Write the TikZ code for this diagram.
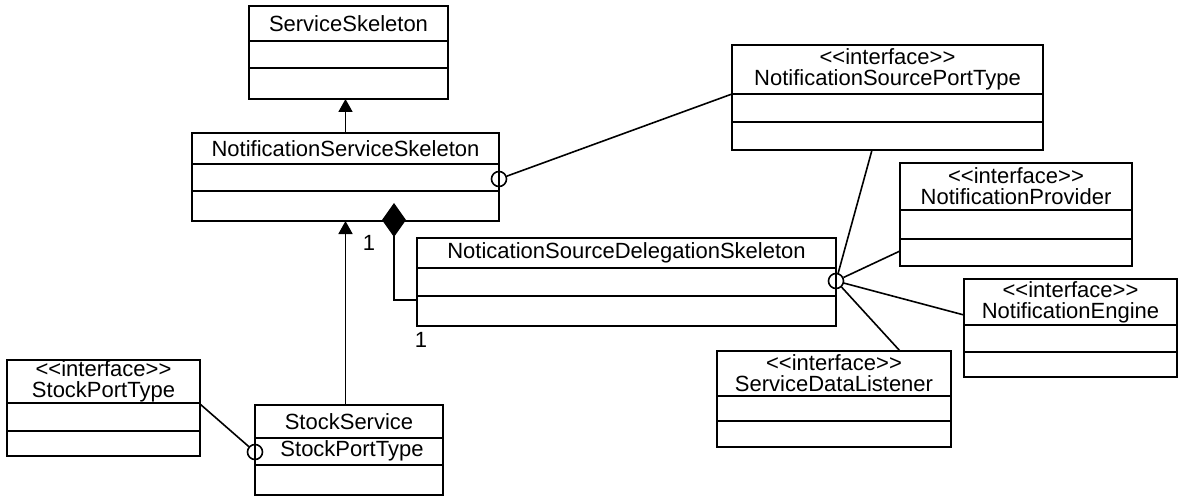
\documentclass[tikz,border=0pt]{standalone}
\usepackage{fontspec}
\setmainfont{Liberation Sans}
\usetikzlibrary{arrows.meta}
\usetikzlibrary{positioning}
\usetikzlibrary{calc}
\tikzset{classbox/.style = {draw, line width=1.8pt, anchor=north west,
                            inner sep=0pt, outer sep=0pt},
         classname/.style = {font=\fontsize{22}{21}\selectfont, align=center, inner sep=0pt},
         divider/.style = {line width=1.8pt},
         ball/.style = {draw, circle, line width=1.6pt, minimum size=15pt, inner sep=0pt},
         link/.style = {line width=1.6pt},
         inherit/.style = {line width=1.8pt, -{Triangle[width=14pt,length=13pt]}},
         compose/.style = {line width=1.8pt, -{Diamond[width=24pt,length=34pt]}}}
% name, top left corner, width, three compartment heights, title
\newcommand{\umlclass}[7]{%
  \node[classbox, minimum width=#3pt, minimum height={#4pt+#5pt+#6pt}] (#1) at (#2) {};
  \draw[divider] ($(#1.north west)+(0,#4)$) -- ($(#1.north east)+(0,#4)$);
  \draw[divider] ($(#1.north west)+(0,#4+#5)$) -- ($(#1.north east)+(0,#4+#5)$);
  \node[classname] (#1-name) at ($(#1.north)+(0,#4/2)$) {#7};
}
\newcommand{\stereo}{<{}<interface>{}>}

\begin{document}
\begin{tikzpicture}[x=1pt, y=-1pt]
    \useasboundingbox (0,0) rectangle (1183,497);

    \umlclass{sskel}{249,6}{199}{35}{27}{31}{ServiceSkeleton}
    \umlclass{nsskel}{192,133}{307}{31}{27}{30}{NotificationServiceSkeleton}
    \umlclass{nsport}{732,45}{311}{49}{28}{28}{\stereo\\NotificationSourcePortType}
    \umlclass{nprov}{900,163}{232}{47}{29}{27}{\stereo\\NotificationProvider}
    \umlclass{neng}{964,279}{213}{46}{27}{25}{\stereo\\NotificationEngine}
    \umlclass{sdlist}{717,351}{234}{45}{25}{26}{\stereo\\ServiceDataListener}
    \umlclass{nsdel}{417,238}{419}{30}{28}{30}{NoticationSourceDelegationSkeleton}
    \umlclass{spt}{7,360}{193}{43}{28}{25}{\stereo\\StockPortType}
    \umlclass{sserv}{255,405}{188}{33}{27}{30}{StockService}
    \node[classname] (sserv-attr) at ($(sserv.north)+(3,46)$) {StockPortType};

    % provided interfaces
    \node[ball] (nsskel-ball) at ($(nsskel.north east)+(0,46)$) {};
    \node[ball] (nsdel-ball) at ($(nsdel.north east)+(0,43)$) {};
    \node[ball] (sserv-ball) at ($(sserv.north west)+(0,47)$) {};

    \draw[link] (nsskel-ball) -- ($(nsport.north west)+(0,49)$);
    \draw[link] (nsdel-ball) -- ($(nsport.south west)+(140,0)$);
    \draw[link] (nsdel-ball) -- ($(nprov.north west)+(0,88)$);
    \draw[link] (nsdel-ball) -- ($(neng.north west)+(0,36)$);
    \draw[link] (nsdel-ball) -- ($(sdlist.north west)+(183,0)$);
    \draw[link] ($(spt.north east)+(0,44)$) -- (sserv-ball);

    % generalisation and composition
    \draw[inherit] (nsskel.north) -- (nsskel.north |- sskel.south);
    \draw[inherit] (sserv.north -| nsskel.south) -- (nsskel.south);
    \draw[compose] ($(nsdel.south west)+(0,-26)$) -| ($(nsskel.south west)+(202,-18)$);

    \node[classname] (mult-whole) at (369,243) {1};
    \node[classname] (mult-part) at (421,340) {1};
  \end{tikzpicture}
\end{document}
